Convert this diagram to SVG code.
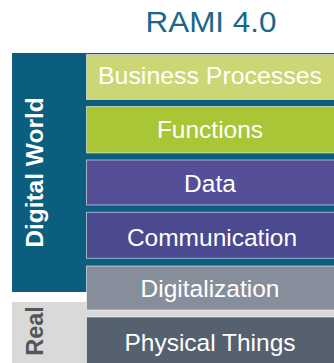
<svg xmlns="http://www.w3.org/2000/svg" width="334" height="363" viewBox="0 0 334 363">
<style>
.band{stroke:#ffffff;stroke-opacity:0.55;stroke-width:1}
.lbl{font-family:"Liberation Sans",Arial,sans-serif;font-size:24.5px;fill:#ffffff;text-anchor:middle}
.side{font-family:"Liberation Sans",Arial,sans-serif;font-weight:bold;text-anchor:middle}
</style>
<rect width="334" height="363" fill="#ffffff"/>
<text x="211" y="32" font-family="Liberation Sans, Arial, sans-serif" font-size="29" fill="#196789" text-anchor="middle" textLength="131" lengthAdjust="spacingAndGlyphs">RAMI 4.0</text>
<g id="digital-world">
<rect x="12" y="53" width="322" height="239" fill="#0B5E7E"/>
<text class="side" transform="translate(43,172.5) rotate(-90)" font-size="24.5" fill="#ffffff">Digital World</text>
</g>
<g id="real">
<rect x="12" y="302" width="322" height="61" fill="#D9D9D9"/>
<text class="side" transform="translate(43,331) rotate(-90)" font-size="23.5" fill="#555555">Real</text>
</g>
<g id="business-processes">
<rect class="band" x="86.5" y="54.5" width="250" height="45" fill="#CCD675"/>
<text class="lbl" x="210" y="84.3" textLength="224" lengthAdjust="spacingAndGlyphs">Business Processes</text>
</g>
<g id="functions">
<rect class="band" x="86.5" y="106.5" width="250" height="46.5" fill="#A9C636"/>
<text class="lbl" x="210" y="138.3">Functions</text>
</g>
<g id="data">
<rect class="band" x="86.5" y="160" width="250" height="45" fill="#554F98"/>
<text class="lbl" x="210" y="191.7">Data</text>
</g>
<g id="communication">
<rect class="band" x="86.5" y="212.3" width="250" height="46" fill="#4B4A90"/>
<text class="lbl" x="212" y="246">Communication</text>
</g>
<g id="digitalization">
<rect class="band" x="86.5" y="266" width="250" height="44" fill="#878E9B"/>
<text class="lbl" x="210" y="296.7">Digitalization</text>
</g>
<g id="physical-things">
<rect class="band" x="86.5" y="317" width="250" height="50" fill="#55616F"/>
<text class="lbl" x="210" y="351">Physical Things</text>
</g>
<g id="connectors"/>
</svg>
